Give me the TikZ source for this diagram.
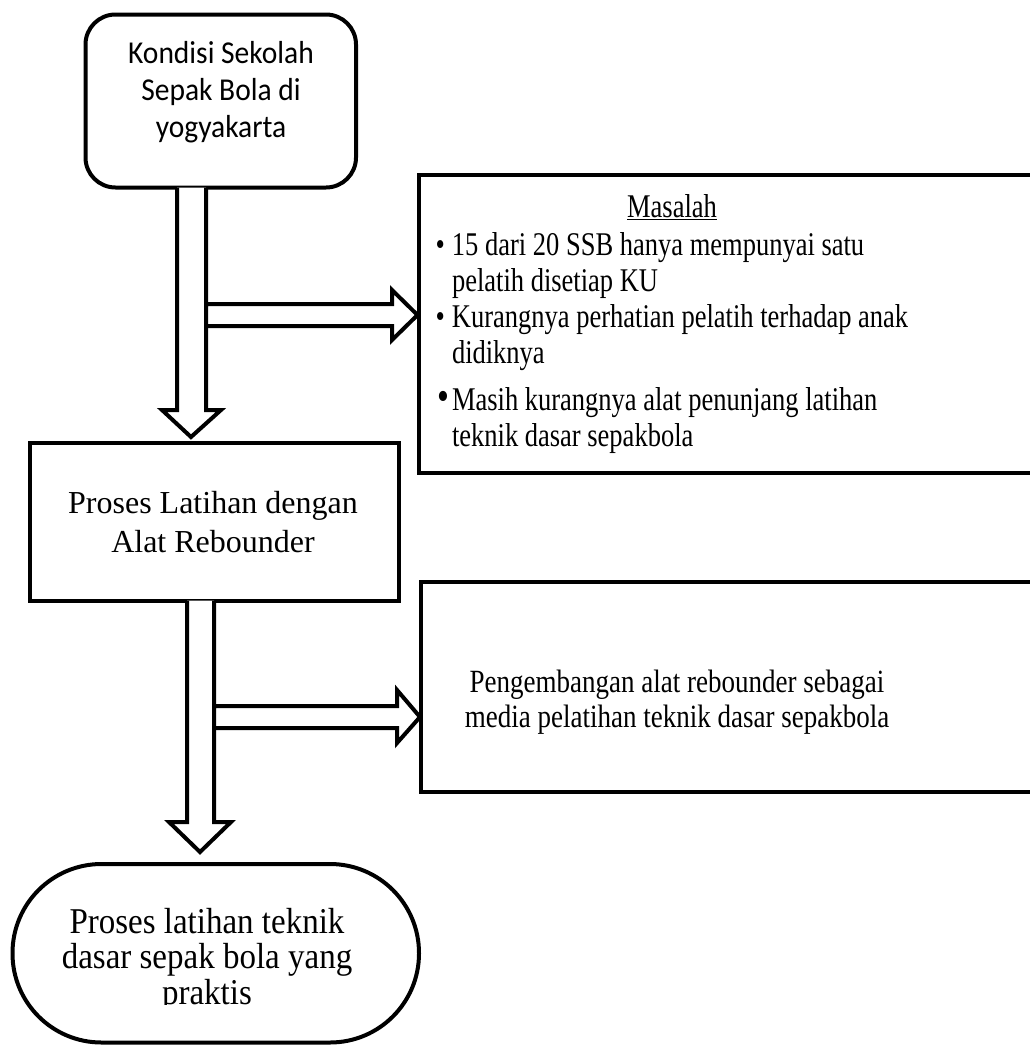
\documentclass[tikz,border=0pt]{standalone}
\usepackage{fontspec}
\usepackage{graphicx}
\setmainfont{Liberation Serif}
\newfontfamily\calfont{Carlito}
\usetikzlibrary{calc}
\newcommand\mlc[1]{\begin{tabular}[t]{@{}c@{}}#1\end{tabular}}
\newcommand\mll[1]{\begin{tabular}[t]{@{}l@{}}#1\end{tabular}}
\newcommand\bul{\llap{\textbullet\hspace{7pt}}}
\newcommand\bigbul{\llap{{\fontsize{34}{34}\selectfont\textbullet}\hspace{3pt}}}
\begin{document}
\begin{tikzpicture}[x=1pt,y=-1pt,
  frame/.style={draw,line width=4pt,line join=miter,inner sep=0pt,outer sep=0pt},
  barrow/.style={draw,line width=4pt,line join=miter,fill=white},
  txt/.style={inner sep=0pt,outer sep=0pt,anchor=base}]
\useasboundingbox[fill=white] (0,0) rectangle (1030,1050);
% boxes
\node[frame, rounded corners=30pt, minimum width=270.5pt, minimum height=173pt] (k) at (220.75,101) {};
\node[frame, anchor=north west, minimum width=630pt, minimum height=298pt] (m) at (418.5,174.5) {};
\node[frame, minimum width=369.5pt, minimum height=157.5pt] (b) at (214.25,521.75) {};
\node[frame, anchor=north west, minimum width=630pt, minimum height=209.5pt] (r) at (421,582) {};
\node[frame, rounded corners=89pt, minimum width=406.5pt, minimum height=178.5pt] (o) at (215.75,953.25) {};
% block arrows
\draw[barrow] (k.south -| 177,0) -- (177,410) -- (162,410) -- ($(b.north -| 191,0)+(0,-6)$) -- (221,410) -- (206,410) -- (k.south -| 206,0);
\draw[barrow] (206,304) -- (392,304) -- (392,290) -- ($(m.west |- 0,315)+(-1,0)$) -- (392,340) -- (392,326) -- (206,326) -- cycle;
\draw[barrow] (b.south -| 187,0) -- (187,822) -- (169,822) -- ($(o.north -| 200,0)+(0,-12)$) -- (231,822) -- (214,822) -- (b.south -| 214,0);
\draw[barrow] (214,706) -- (397,706) -- (397,690) -- ($(r.west |- 0,717)+(-1,0)$) -- (397,743) -- (397,728) -- (214,728) -- cycle;
% texts
\node[txt] (kt) at (221,63) {\scalebox{1}[1.08]{\calfont\fontsize{29.5}{34.7}\selectfont\mlc{Kondisi Sekolah\\Sepak Bola di\\yogyakarta}}};
\node[txt] (mh) at (672,217) {\scalebox{1}[1.25]{\fontsize{26.5}{32}\selectfont\underline{Masalah}}};
\node[txt, anchor=base west] (ml) at (452,255) {\scalebox{1}[1.25]{\fontsize{26.5}{29.04}\selectfont\mll{\bul15 dari 20 SSB hanya mempunyai satu\\pelatih disetiap KU\\\bul Kurangnya perhatian pelatih terhadap anak\\didiknya\\[8pt]\bigbul Masih kurangnya alat penunjang latihan\\teknik dasar sepakbola}}};
\node[txt] (bt) at (213,513) {\fontsize{32}{39}\selectfont\mlc{Proses Latihan dengan\\Alat Rebounder}};
\node[txt] (rt) at (677,692) {\scalebox{1}[1.2]{\fontsize{27}{29.2}\selectfont\mlc{Pengembangan alat rebounder sebagai\\media pelatihan teknik dasar sepakbola}}};
\begin{scope}
\clip (0,0) rectangle (1030,1004);
\node[txt] (ot) at (207,933) {\scalebox{1}[1.1]{\fontsize{33}{31.8}\selectfont\mlc{Proses latihan teknik\\dasar sepak bola yang\\praktis}}};
\end{scope}
\end{tikzpicture}
\end{document}
